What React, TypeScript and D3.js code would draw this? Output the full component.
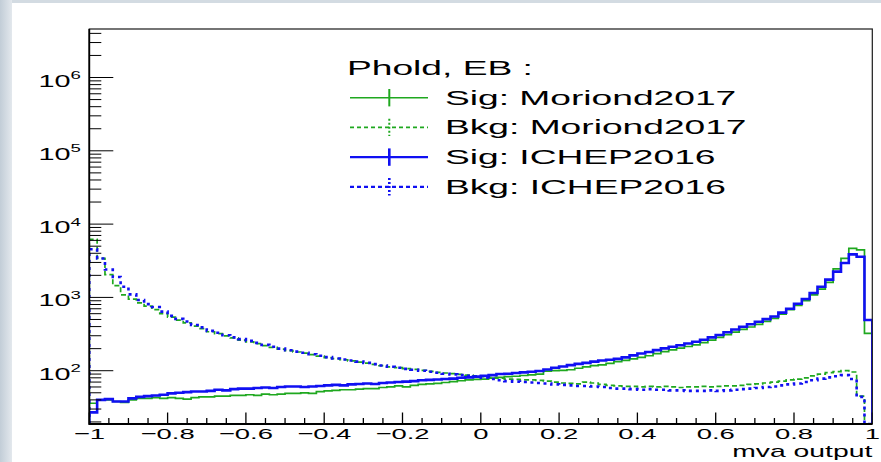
import React, { useEffect, useRef } from "react";
import * as d3 from "d3";

const W = 881;
const H = 462;
const SX = 1.77; // the reference plot is stretched sideways, text included

// 100 bins over [-1, 1]
const binLow = d3.range(100).map((i) => -1 + i * 0.02);

const sigMoriond = [
  36, 40, 40, 38, 37, 40, 42, 42, 43, 42, 43, 42, 41, 43, 44, 44, 45, 45, 46, 46,
  47, 46, 48, 47, 48, 49, 49, 50, 49, 52, 53, 54, 55, 55, 56, 57, 57, 59, 60, 62,
  60, 63, 65, 66, 67, 69, 71, 73, 75, 76, 77, 79, 81, 83, 84, 86, 88, 90, 99, 100,
  101, 103, 108, 113, 117, 120, 126, 133, 138, 145, 152, 160, 171, 182, 192, 203, 214, 225, 242, 262,
  285, 310, 337, 366, 395, 428, 470, 518, 590, 680, 780, 900, 1080, 1300, 1600, 2450, 3400, 4680, 4440, 324,
];

const bkgMoriond = [
  6200, 3400, 2050, 1450, 1080, 950, 840, 760, 680, 600, 540, 490, 450, 405, 375, 340, 320, 298, 280, 262,
  248, 234, 220, 208, 197, 188, 180, 174, 166, 158, 151, 146, 141, 136, 131, 127, 122, 117, 113, 110,
  107, 104, 101, 98, 95, 93, 91, 89, 87, 85, 83, 81, 79, 77, 76, 75, 75, 74, 72, 70,
  68, 67, 66, 70, 68, 65, 63, 62, 61, 61, 60, 61, 60, 61, 60, 59, 60, 60, 61, 60,
  61, 62, 62, 63, 65, 66, 68, 70, 72, 75, 77, 80, 85, 90, 94, 97, 100, 96, 45, 0,
];

const sigIchep = [
  27, 40, 41, 38, 38, 42, 44, 45, 46, 47, 49, 50, 51, 52, 52, 53, 55, 54, 56, 57,
  57, 58, 59, 58, 60, 61, 61, 60, 61, 62, 63, 64, 63, 65, 66, 67, 66, 68, 69, 70,
  71, 72, 74, 75, 76, 77, 78, 80, 81, 83, 85, 87, 90, 91, 93, 95, 97, 99, 104, 110,
  114, 119, 124, 128, 133, 138, 141, 145, 152, 162, 172, 180, 191, 202, 212, 222, 235, 248, 265, 285,
  307, 335, 365, 398, 430, 465, 505, 550, 620, 700, 820, 950, 1150, 1400, 1750, 2250, 2950, 3870, 3590, 493,
];

const bkgIchep = [
  4530, 3400, 2400, 1900, 1400, 1100, 920, 810, 740, 640, 560, 510, 470, 420, 390, 350, 330, 305, 285, 270,
  255, 240, 225, 212, 200, 190, 182, 176, 168, 160, 153, 147, 142, 138, 133, 128, 123, 118, 113, 110,
  106, 103, 100, 97, 94, 91, 89, 87, 85, 83, 80, 77, 74, 72, 71, 70, 69, 68, 67, 65,
  64, 63, 62, 62, 61, 60, 58, 57, 57, 56, 55, 56, 55, 55, 54, 54, 53, 53, 53, 54,
  53, 54, 55, 56, 57, 58, 60, 61, 63, 65, 67, 70, 74, 78, 81, 84, 87, 77, 44, 0,
];

const xMajorLabels = ["\u22121", "\u22120.8", "\u22120.6", "\u22120.4", "\u22120.2", "0", "0.2", "0.4", "0.6", "0.8", "1"];
const legendHeader = "Phold, EB :";
const legendLabels = ["Sig: Moriond2017", "Bkg: Moriond2017", "Sig: ICHEP2016", "Bkg: ICHEP2016"];
const xTitle = "mva output";

const GREEN = "#1fa81f";
const BLUE = "#1010f2";
const series = [
  { values: sigMoriond, color: GREEN, width: 1.7, dash: null },
  { values: bkgMoriond, color: GREEN, width: 1.7, dash: "5,3" },
  { values: sigIchep, color: BLUE, width: 2.6, dash: null },
  { values: bkgIchep, color: BLUE, width: 2.6, dash: "3,4" },
];

const FONT = "'Liberation Sans', Arial, Helvetica, sans-serif";

const App = () => {
  const svgRef = useRef<SVGSVGElement>(null);

  useEffect(() => {
    if (!svgRef.current) return;
    const svg = d3.select(svgRef.current);
    svg.selectAll("*").remove();

    const frame = { left: 89.3, right: 872.3, top: 29, bottom: 424 };
    const yMin = 18.75;
    const yMax = 4.59e6;

    // slide background behind the plot
    const defs = svg.append("defs");
    const grad = defs
      .append("linearGradient")
      .attr("id", "edge")
      .attr("x1", 0)
      .attr("x2", 1)
      .attr("y1", 0)
      .attr("y2", 0);
    grad.append("stop").attr("offset", "0%").attr("stop-color", "#c2cdd7");
    grad.append("stop").attr("offset", "100%").attr("stop-color", "#e3e8ed");
    svg.append("rect").attr("width", W).attr("height", H).attr("fill", "#d3dbe2");
    svg.append("rect").attr("width", 12).attr("height", H).attr("fill", "url(#edge)");
    svg
      .append("rect")
      .attr("x", 12)
      .attr("y", 3)
      .attr("width", W - 12)
      .attr("height", H - 3)
      .attr("fill", "#ffffff");

    defs
      .append("clipPath")
      .attr("id", "plotclip")
      .append("rect")
      .attr("x", frame.left)
      .attr("y", frame.top)
      .attr("width", frame.right - frame.left)
      .attr("height", frame.bottom - frame.top);

    const x = d3.scaleLinear().domain([-1, 1]).range([frame.left, frame.right]);
    const y = d3.scaleLog().domain([yMin, yMax]).range([frame.bottom, frame.top]).clamp(true);

    // histograms drawn as step outlines
    const line = d3
      .line<[number, number]>()
      .x((d) => x(d[0]))
      .y((d) => y(Math.max(d[1], yMin)))
      .curve(d3.curveStepAfter);

    const plot = svg.append("g").attr("clip-path", "url(#plotclip)");
    series.forEach((s) => {
      const pts: [number, number][] = [[-1, yMin]];
      s.values.forEach((v, i) => pts.push([binLow[i], v]));
      pts.push([1, s.values[s.values.length - 1]]);
      pts.push([1, yMin]);
      plot
        .append("path")
        .attr("d", line(pts))
        .attr("fill", "none")
        .attr("stroke", s.color)
        .attr("stroke-width", s.width)
        .attr("stroke-dasharray", s.dash)
        .attr("stroke-linejoin", "miter");
    });

    const text = (px: number, py: number, anchor: string, size: number) =>
      svg
        .append("text")
        .attr("transform", `translate(${px},${py}) scale(${SX},1)`)
        .attr("text-anchor", anchor)
        .attr("font-family", FONT)
        .attr("font-size", size)
        .attr("fill", "#000");

    // y axis: log ticks pointing into the frame
    y.ticks().forEach((t) => {
      const lg = Math.log10(t);
      const major = Math.abs(lg - Math.round(lg)) < 1e-9;
      svg
        .append("line")
        .attr("x1", frame.left)
        .attr("x2", frame.left + (major ? 24 : 12))
        .attr("y1", y(t))
        .attr("y2", y(t))
        .attr("stroke", "#000")
        .attr("stroke-width", 1);
      if (major) {
        const lab = text(frame.left - 8.5, y(t) + 9, "end", 16.3);
        lab.append("tspan").text("10");
        lab.append("tspan").attr("dy", -7.4).attr("font-size", 10.5).text(String(Math.round(lg)));
      }
    });

    // x axis
    d3.range(-1, 1.0001, 0.05).forEach((t) => {
      const major = Math.abs(t * 5 - Math.round(t * 5)) < 1e-6;
      svg
        .append("line")
        .attr("x1", x(t))
        .attr("x2", x(t))
        .attr("y1", frame.bottom)
        .attr("y2", frame.bottom - (major ? 11.5 : 6))
        .attr("stroke", "#000")
        .attr("stroke-width", 1.3);
    });
    x.ticks(10).forEach((t, i) => {
      text(x(t), 439, "middle", 15.5).text(xMajorLabels[i]);
    });
    text(frame.right, 457, "end", 16).text(xTitle);

    // frame
    svg
      .append("rect")
      .attr("x", frame.left)
      .attr("y", frame.top)
      .attr("width", frame.right - frame.left)
      .attr("height", frame.bottom - frame.top)
      .attr("fill", "none")
      .attr("stroke", "#1a1a1a")
      .attr("stroke-width", 1.2);
    svg
      .append("path")
      .attr("d", `M${frame.left},${frame.top}V${frame.bottom}H${frame.right}`)
      .attr("fill", "none")
      .attr("stroke", "#000")
      .attr("stroke-width", 1.8);

    // legend
    text(347, 75, "start", 21).text(legendHeader);
    legendLabels.forEach((label, i) => {
      const s = series[i];
      const base = 104.5 + i * 29.7;
      const ly = base - 6.8;
      svg
        .append("line")
        .attr("x1", 350)
        .attr("x2", 428)
        .attr("y1", ly)
        .attr("y2", ly)
        .attr("stroke", s.color)
        .attr("stroke-width", s.width > 2 ? 2.2 : 1.6)
        .attr("stroke-dasharray", s.dash ? "4,3" : null);
      svg
        .append("line")
        .attr("x1", 389.3)
        .attr("x2", 389.3)
        .attr("y1", ly - 8.7)
        .attr("y2", ly + 8.7)
        .attr("stroke", s.color)
        .attr("stroke-width", s.width > 2 ? 2.6 : 2)
        .attr("stroke-dasharray", s.dash ? "2,2" : null);
      text(445, base, "start", 21).text(label);
    });
  }, []);

  return (
    <div style={{ position: "fixed", left: 0, top: 0 }}>
      <svg ref={svgRef} width={W} height={H} style={{ display: "block" }} />
    </div>
  );
};

export default App;
